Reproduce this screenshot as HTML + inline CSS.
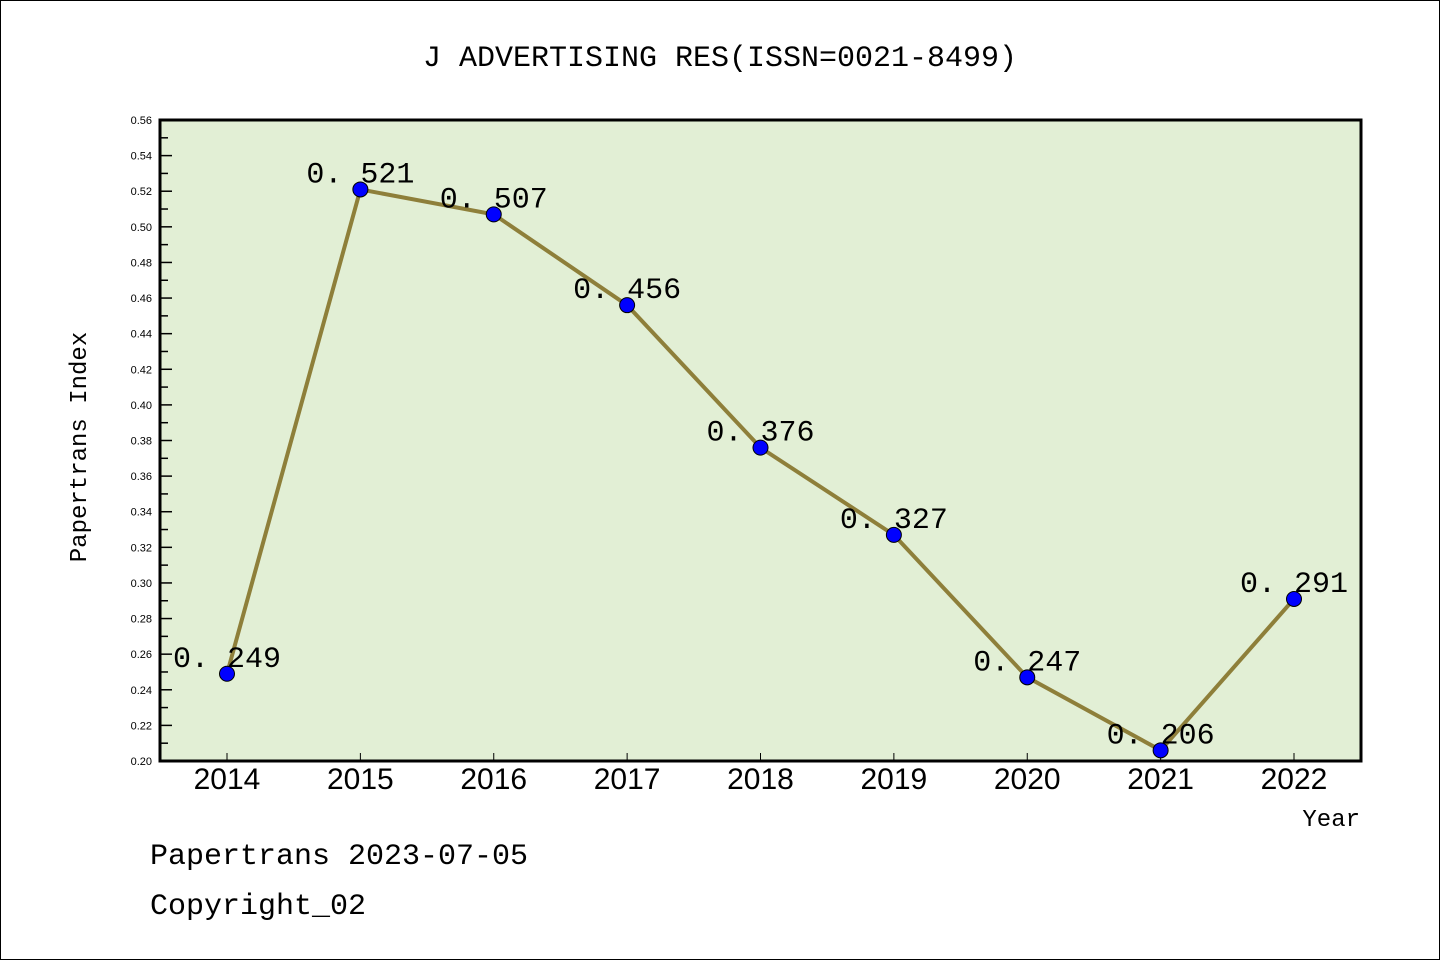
<!DOCTYPE html>
<html><head><meta charset="utf-8"><style>
body{margin:0;background:#fff}
svg{display:block;font-family:"Liberation Mono","DejaVu Sans Mono",monospace}
</style></head><body>
<svg width="1440" height="960">
<rect x="0.5" y="0.5" width="1439" height="959" fill="#fff" stroke="#000"/>
<text x="720" y="66" text-anchor="middle" font-size="30">J ADVERTISING RES(ISSN=0021-8499)</text>
<rect x="160" y="120" width="1201" height="641" fill="#e2efd5" stroke="#000" stroke-width="3"/>
<g id="axes"></g>
<g id="series"></g>
<text x="86" y="447" transform="rotate(-90 86 447)" text-anchor="middle" font-size="24">Papertrans Index</text>
<text x="1360" y="826" text-anchor="end" font-size="24">Year</text>
<text x="150" y="864" font-size="30">Papertrans 2023-07-05</text>
<text x="150" y="914" font-size="30">Copyright_02</text>
</svg>
<script>
const years=["2014","2015","2016","2017","2018","2019","2020","2021","2022"];
const values=[0.249,0.521,0.507,0.456,0.376,0.327,0.247,0.206,0.291];
const yTicks=[0.20,0.22,0.24,0.26,0.28,0.30,0.32,0.34,0.36,0.38,0.40,0.42,0.44,0.46,0.48,0.50,0.52,0.54,0.56];
const NS="http://www.w3.org/2000/svg";
const x=i=>227+i*(1294-227)/(years.length-1);
const y=v=>761-(v-0.20)*(761-120)/(0.56-0.20);
function mk(tag,attrs,parent,text){const e=document.createElementNS(NS,tag);for(const k in attrs)e.setAttribute(k,attrs[k]);if(text!==undefined)e.textContent=text;parent.appendChild(e);return e;}
const ax=document.getElementById('axes'),se=document.getElementById('series');
yTicks.forEach((t,i)=>{
 const yy=y(t);
 const l=mk('line',{x1:160,x2:172,y1:yy,y2:yy,stroke:'#000','stroke-width':1.5},ax);
 
 
 const lb=mk('text',{x:152,y:yy+4,'text-anchor':'end','font-size':11,'font-family':'Liberation Sans, sans-serif'},ax,t.toFixed(2));
 
 
 if(i<yTicks.length-1){const ym=y(t+0.01);
  const m=mk('line',{x1:160,x2:168,y1:ym,y2:ym,stroke:'#000','stroke-width':1.5},ax);
  
  }
});
years.forEach((yr,i)=>{
 const t=mk('line',{x1:x(i),x2:x(i),y1:761,y2:753,stroke:'#000','stroke-width':1},ax);
 
 
 const lb=mk('text',{x:x(i),y:789,'text-anchor':'middle','font-size':30,'font-family':'Liberation Sans, sans-serif'},ax,yr);
 
 
});
const line=mk('polyline',{points:values.map((v,i)=>x(i)+','+y(v)).join(' '),fill:'none',stroke:'#8e7f3a','stroke-width':4},se);


values.forEach((v,i)=>{
 const c=mk('circle',{cx:x(i),cy:y(v),r:7.5,fill:'#0000ff',stroke:'#000','stroke-width':1},se);
 
 
 const lb=mk('text',{x:x(i),y:y(v)-7,'text-anchor':'middle','font-size':30},se,v.toFixed(3).replace('.','. '));
 
 
});
</script>
</body></html>
